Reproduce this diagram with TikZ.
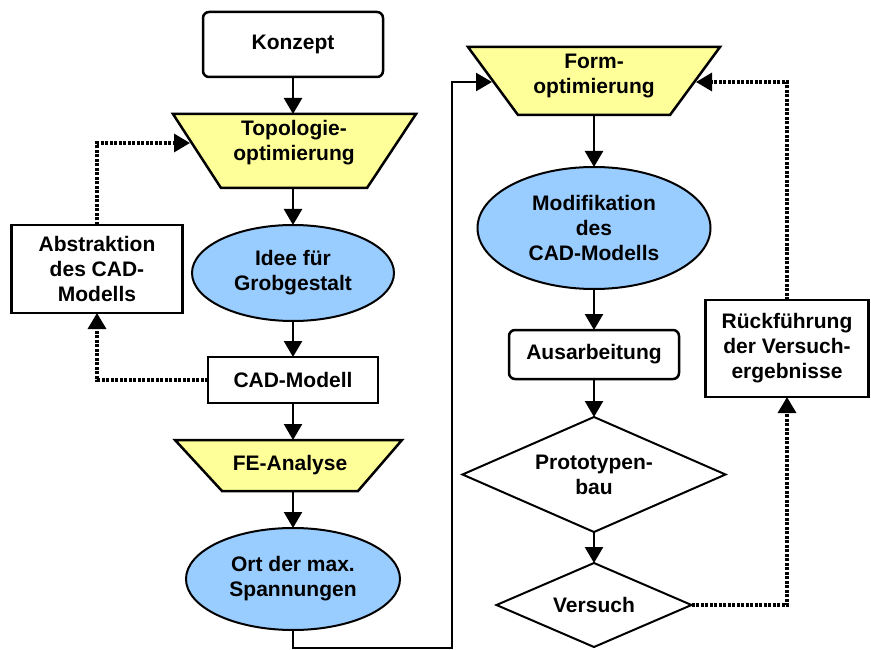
\documentclass[tikz,border=0pt]{standalone}
\usepackage{fontspec}
\setmainfont{Liberation Sans}
\usetikzlibrary{shapes.geometric, arrows.meta}
\definecolor{trapyellow}{HTML}{FFFF99}
\definecolor{ellblue}{HTML}{99CCFF}
\tikzset{
  base/.style={align=center, inner sep=0pt, outer sep=0pt},
  rbox/.style={base, draw, line width=2.5pt, rounded corners=6pt, fill=white},
  sbox/.style={base, draw, line width=2.5pt, fill=white},
  ell/.style={base, ellipse, draw, fill=ellblue, line width=2pt},
  dia/.style={base, diamond, aspect=2.3, draw, line width=2pt, fill=white},
  trapfill/.style={draw, fill=trapyellow, line width=2.5pt, line join=miter},
  txt/.style={base},
  flow/.style={line width=2.5pt, -{Triangle[length=16pt,width=18pt]}},
  fb/.style={line width=3.2pt, dash pattern=on 3pt off 1.5pt, -{Triangle[length=16pt,width=18pt]}}
}
\begin{document}
\begin{tikzpicture}[x=1pt, y=-1pt, font=\fontsize{21}{25}\selectfont\bfseries]
\useasboundingbox (0,0) rectangle (871,650);

% trapezoids
\draw[trapfill] (173,114) -- (416,114) -- (367,188) -- (221,188) -- cycle;
\draw[trapfill] (175,440) -- (402,440) -- (358,491) -- (222,491) -- cycle;
\draw[trapfill] (468,47) -- (720,47) -- (670,115) -- (518,115) -- cycle;

% nodes
\node[rbox, minimum width=180pt, minimum height=65pt] (konzept) at (293,44.5) {Konzept};
\node[txt] (topo) at (294,143) {Topologie-\\optimierung};
\coordinate (topoN) at (293,114);
\coordinate (topoS) at (293,188);
\coordinate (topoW) at (190,143);
\node[ell, minimum width=202pt, minimum height=96pt] (idee) at (293,273) {Idee für\\Grobgestalt};
\node[sbox, minimum width=171pt, minimum height=88pt] (abstr) at (97,269) {Abstraktion\\des CAD-\\Modells};
\node[sbox, minimum width=170pt, minimum height=46pt] (cad) at (293,380) {CAD-Modell};
\node[txt] (fe) at (290,465) {FE-Analyse};
\coordinate (feN) at (293,440);
\coordinate (feS) at (293,491);
\node[ell, minimum width=214pt, minimum height=102pt] (ort) at (293,579) {Ort der max.\\Spannungen};

\node[txt] (form) at (594,76) {Form-\\optimierung};
\coordinate (formN) at (594,47);
\coordinate (formS) at (594,115);
\coordinate (formW) at (492,82);
\coordinate (formE) at (696,82);
\node[ell, minimum width=233pt, minimum height=122pt] (modif) at (594,228) {Modifikation\\des\\CAD-Modells};
\node[rbox, minimum width=170pt, minimum height=49pt] (ausarb) at (594,354.5) {Ausarbeitung};
\node[dia, minimum width=263pt, minimum height=115pt] (proto) at (594,474.5) {Prototypen-\\bau};
\node[dia, minimum width=195pt, minimum height=84pt] (versuch) at (594,605) {Versuch};
\node[sbox, minimum width=163pt, minimum height=97pt] (rueck) at (787,348.5) {Rückführung\\der Versuch-\\ergebnisse};

\coordinate (bottomR) at (452,648);

% solid flow
\draw[flow] (konzept.south) -- (topoN);
\draw[flow] (topoS) -- (idee.north);
\draw[flow] (idee.south) -- (cad.north);
\draw[flow] (cad.south) -- (feN);
\draw[flow] (feS) -- (ort.north);
\draw[flow] (ort.south) |- (bottomR) |- (formW);
\draw[flow] (formS) -- (modif.north);
\draw[flow] (modif.south) -- (ausarb.north);
\draw[flow] (ausarb.south) -- (proto.north);
\draw[flow] (proto.south) -- (versuch.north);

% dotted feedback
\draw[fb] (cad.west) -| (abstr.south);
\draw[fb] (abstr.north) |- (topoW);
\draw[fb] (versuch.east) -| (rueck.south);
\draw[fb] (rueck.north) |- (formE);
\end{tikzpicture}
\end{document}
